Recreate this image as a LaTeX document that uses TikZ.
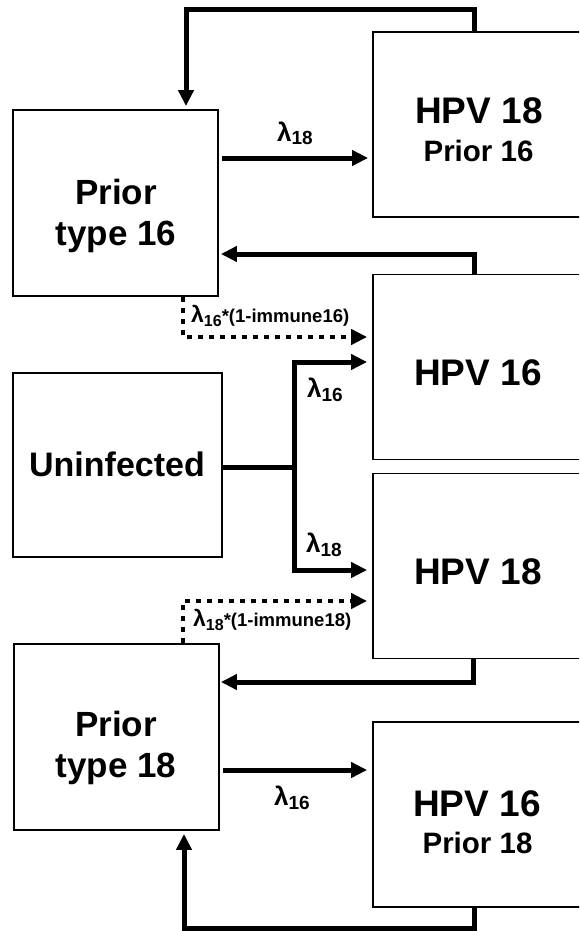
\documentclass[tikz,border=0pt]{standalone}
\usepackage{fontspec}
\setmainfont{Liberation Sans}
\usetikzlibrary{arrows.meta}

% rate labels: lambda with a lowered index
\newcommand{\ratelbl}[1]{{\fontsize{26}{26}\selectfont λ}\raisebox{-4pt}{\fontsize{19}{19}\selectfont #1}}
\newcommand{\immunelbl}[1]{{\fontsize{23}{23}\selectfont λ}\raisebox{-4pt}{\fontsize{16}{16}\selectfont #1}{\fontsize{18.5}{18.5}\selectfont *(1-immune#1)}}

\begin{document}
\begin{tikzpicture}[x=1pt, y=-1pt, line join=miter,
  box/.style={draw, line width=1.8pt, minimum width=205pt, minimum height=186pt, inner sep=0pt},
  rbox/.style={box, minimum width=215pt, minimum height=185pt},
  bigtxt/.style={font=\bfseries\fontsize{37}{40}\selectfont, inner sep=0pt, anchor=base},
  midtxt/.style={font=\bfseries\fontsize{35}{40}\selectfont, inner sep=0pt, anchor=base},
  smalltxt/.style={font=\bfseries\fontsize{29.5}{32}\selectfont, inner sep=0pt, anchor=base},
  ratetxt/.style={font=\bfseries, inner sep=0pt, anchor=base west},
  flow/.style={line width=5pt, -{Triangle[length=16pt,width=15pt]}},
  dotflow/.style={line width=4pt, dash pattern=on 5pt off 6pt, -{Triangle[length=16pt,width=15pt]}},
  trunk/.style={line width=5pt}]

\useasboundingbox (0,0) rectangle (579,931);
\fill[white] (0,0) rectangle (579,931);
\clip (0,0) rectangle (579,931);

% compartments on the left
\node[box] (p16) at (115.5,203) {};
\node[box, minimum width=209pt, minimum height=184pt] (un) at (117.5,465) {};
\node[box] (p18) at (116.5,737) {};

% compartments on the right (run past the right edge)
\node[rbox] (h18p16) at (480.5,124.5) {};
\node[rbox] (h16) at (480.5,367) {};
\node[rbox] (h18) at (480.5,566) {};
\node[rbox] (h16p18) at (480.5,814.5) {};

% compartment texts
\node[bigtxt] (h18p16a) at (479,124) {HPV 18};
\node[smalltxt] (h18p16b) at (478.5,161.5) {Prior 16};
\node[midtxt] (p16a) at (116,204) {Prior};
\node[midtxt] (p16b) at (116,245.5) {type 16};
\node[bigtxt] (h16a) at (478,385) {HPV 16};
\node[font=\bfseries\fontsize{34}{40}\selectfont, inner sep=0pt, anchor=base] (una) at (117,476) {Uninfected};
\node[bigtxt] (h18a) at (478,584) {HPV 18};
\node[midtxt] (p18a) at (116,736.5) {Prior};
\node[midtxt] (p18b) at (116,777) {type 18};
\node[bigtxt] (h16p18a) at (477,816) {HPV 16};
\node[smalltxt] (h16p18b) at (477.5,853) {Prior 18};

% recovery back to the prior-type compartments
\draw[flow, shorten >=3pt] (h18p16.north -| 474,0) -- (474,10) -| (p16.north -| 186,0);
\draw[flow, shorten >=2pt] (h16.north -| 474,0) |- (p16.east |- 0,254);
\draw[flow, shorten >=1pt] (h18.south -| 473,0) |- (p18.east |- 0,682);
\draw[flow, shorten >=3pt] (h16p18.south -| 474,0) -- (474,928) -| (p18.south -| 184,0);

% infection with the other type
\draw[flow, shorten <=3pt, shorten >=4pt] (p16.east |- 0,158) -- (h18p16.west |- 0,158);
\draw[flow, shorten <=3pt, shorten >=5pt] (p18.east |- 0,770) -- (h16p18.west |- 0,770);

% reinfection with the same type
\draw[dotflow, shorten >=5pt] (p16.south -| 183,0) |- (h16.west |- 0,337);
\draw[dotflow, shorten >=5pt] (p18.north -| 183,0) |- (h18.west |- 0,601);

% first infection
\coordinate (fork) at (294,467);
\draw[trunk] (un.east |- fork) -- (fork);
\draw[flow, shorten >=5pt] (fork) |- (h16.west |- 0,362);
\draw[flow, shorten >=5pt] (fork) |- (h18.west |- 0,570);

% rates
\node[ratetxt] (r1) at (277,141) {\ratelbl{18}};
\node[ratetxt] (r2) at (307,397) {\ratelbl{16}};
\node[ratetxt] (r3) at (306,552) {\ratelbl{18}};
\node[ratetxt] (r4) at (274,805) {\ratelbl{16}};
\node[ratetxt] (r5) at (191,322) {\immunelbl{16}};
\node[ratetxt] (r6) at (193,626) {\immunelbl{18}};
\end{tikzpicture}
\end{document}
